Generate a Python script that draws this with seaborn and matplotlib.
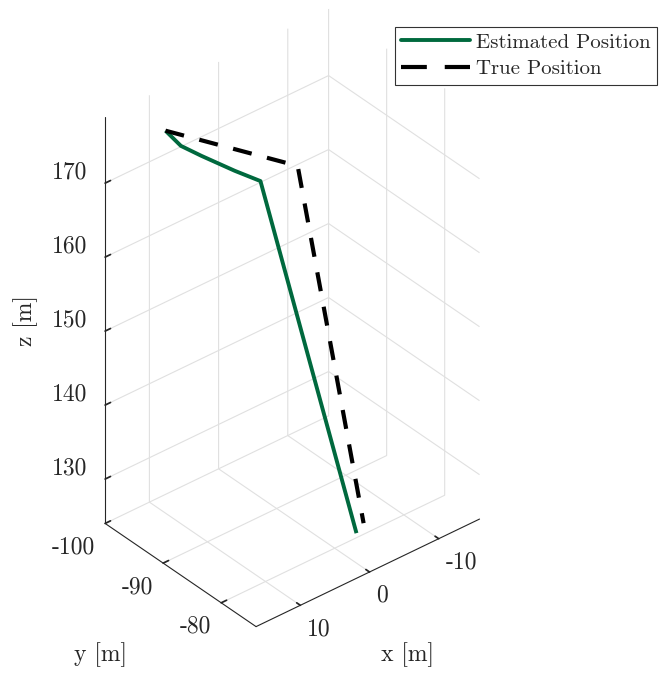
import matplotlib
matplotlib.use("Agg")
import matplotlib.pyplot as plt
import seaborn as sns
from matplotlib.lines import Line2D

# trajectories (metres)
est_x = [11.2, 10.4, 8.98, 5.71, 3.43, -2.98]
est_y = [-95.8, -94.1, -92.26, -90.4, -88.7, -79.8]
est_z = [177.0, 175.5, 174.5, 172.0, 170.5, 124.8]

true_x = [11.2, -0.23, -4.64]
true_y = [-95.8, -86.65, -80.55]
true_z = [177.0, 172.0, 125.0]

x_ticks = [-10, 0, 10]
y_ticks = [-100, -90, -80]
z_ticks = [130, 140, 150, 160, 170]
x_lim = (-15.9, 16.4)
y_lim = (-100, -74.0)
z_lim = (124, 179)

sns.set_theme(style="white")
plt.rcParams['font.family'] = ['cmr10', 'DejaVu Serif']
plt.rcParams['axes.unicode_minus'] = False
plt.rcParams['mathtext.fontset'] = 'cm'

fig = plt.figure(figsize=(6.6, 6.77), dpi=100)
ax = fig.add_axes([-0.0706, 0.0174, 1, 1], projection='3d', proj_type='ortho')
ax.view_init(elev=35, azim=50)

green = '#00693E'
ax.plot(est_x, est_y, est_z, color=green, lw=2.8, solid_capstyle='butt')
ln, = ax.plot(true_x, true_y, true_z, color='black', lw=3.0)
ln.set_dashes((4.6, 3.8))

ax.set_xlim(*x_lim)
ax.set_ylim(*y_lim)
ax.set_zlim(*z_lim)
ax.set_box_aspect((x_lim[1] - x_lim[0], y_lim[1] - y_lim[0], z_lim[1] - z_lim[0]), zoom=0.915)

ax.set_xticks(x_ticks, [str(t) for t in x_ticks])
ax.set_yticks(y_ticks, [str(t) for t in y_ticks])
ax.set_zticks(z_ticks, [str(t) for t in z_ticks])

for axis in (ax.xaxis, ax.yaxis, ax.zaxis):
    axis.set_pane_color((1, 1, 1, 0))
    axis.pane.set_edgecolor((1, 1, 1, 0))
    axis.line.set_color('#262626')
    axis.line.set_linewidth(0.8)
    axis._axinfo['grid'].update(color='#e0e0e0', linewidth=0.8)
    axis._axinfo['tick']['inward_factor'] = 0.0
    axis._axinfo['tick']['outward_factor'] = 0.3
ax.tick_params(labelsize=17, colors='#262626')

# MATLAB-like placement of the tick labels
for lbl in ax.get_xticklabels():
    lbl.set_ha('left')
    lbl.set_va('center')
for lbl in ax.get_yticklabels():
    lbl.set_ha('right')
    lbl.set_va('center')
for lbl in ax.get_zticklabels():
    lbl.set_ha('right')
    lbl.set_va('bottom')

ax.set_xlabel('')
ax.set_ylabel('')
ax.set_zlabel('')

fig.text(0.618, 0.0325, 'x [m]', fontsize=17, color='#262626', ha='center', va='center')
fig.text(0.153, 0.0325, 'y [m]', fontsize=17, color='#262626', ha='center', va='center')
fig.text(0.039, 0.527, 'z [m]', fontsize=17, color='#262626', rotation=90, ha='center', va='center')

handles = [Line2D([], [], color=green, lw=2.8),
           Line2D([], [], color='black', lw=3.0, dashes=(6.2, 4.3))]
leg = fig.legend(handles, ['Estimated Position', 'True Position'],
                 loc='upper right', bbox_to_anchor=(0.9955, 0.9606), fontsize=15,
                 frameon=True, fancybox=False, edgecolor='black',
                 borderpad=0.3, handlelength=3.3, labelspacing=0.4, handletextpad=0.3,
                 borderaxespad=0.0)
leg.get_frame().set_linewidth(0.8)

fig.savefig('out.png', dpi=100, facecolor='white')
